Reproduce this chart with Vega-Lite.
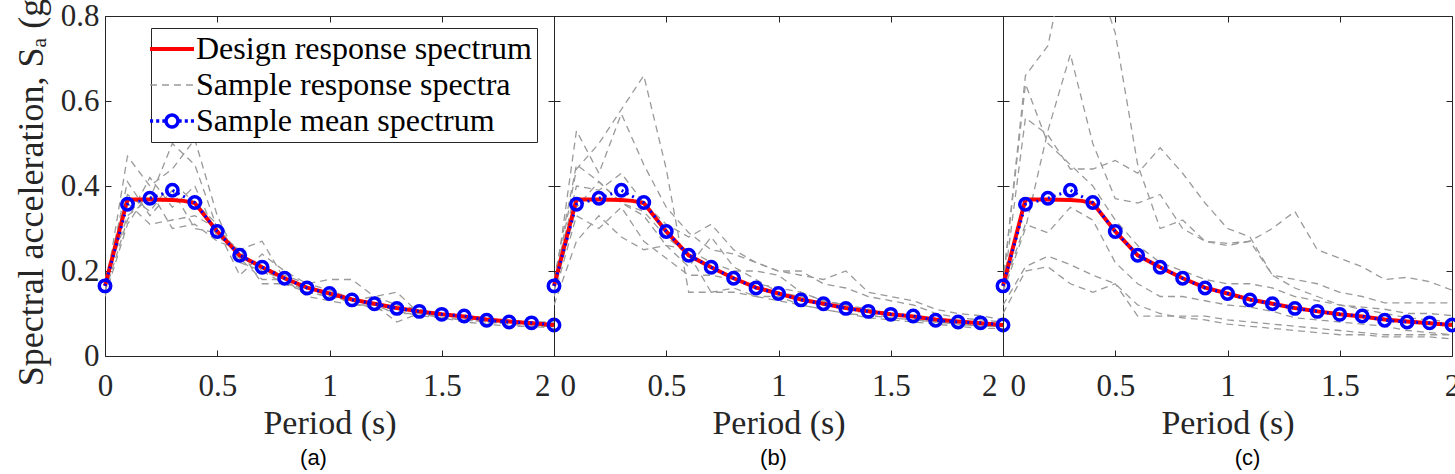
{
"$schema": "https://vega.github.io/schema/vega-lite/v6.json",
"background": "white",
"padding": {"left": 12, "top": -15, "right": 0, "bottom": 0},
"bounds": "flush",
"spacing": 0,
"config": {
  "view": {"stroke": "#262626", "strokeWidth": 1},
  "font": "Liberation Serif",
  "axis": {"domain": false, "grid": false, "ticks": true, "tickSize": -6, "tickColor": "#262626", "tickWidth": 1,
    "labelFont": "Liberation Serif", "labelFontSize": 31, "labelColor": "#262626",
    "titleFont": "Liberation Serif", "titleFontSize": 34, "titleFontWeight": "normal", "titleColor": "#262626"}
},
"datasets": {
  "design": [
    {"T":0,"v":0.165},{"T":0.1,"v":0.368},{"T":0.2,"v":0.368},{"T":0.3,"v":0.367},{"T":0.35,"v":0.365},{"T":0.4,"v":0.36},
    {"T":0.5,"v":0.293},{"T":0.6,"v":0.237},{"T":0.7,"v":0.209},{"T":0.8,"v":0.183},{"T":0.9,"v":0.161},{"T":1,"v":0.147},
    {"T":1.1,"v":0.133},{"T":1.2,"v":0.123},{"T":1.3,"v":0.113},{"T":1.4,"v":0.105},{"T":1.5,"v":0.098},{"T":1.6,"v":0.093},
    {"T":1.7,"v":0.086},{"T":1.8,"v":0.081},{"T":1.9,"v":0.077},{"T":2,"v":0.073}
  ],
  "mean": [
    {"T":0,"v":0.165},{"T":0.1,"v":0.357},{"T":0.2,"v":0.371},{"T":0.3,"v":0.39},{"T":0.4,"v":0.361},{"T":0.5,"v":0.293},
    {"T":0.6,"v":0.237},{"T":0.7,"v":0.209},{"T":0.8,"v":0.183},{"T":0.9,"v":0.16},{"T":1,"v":0.147},{"T":1.1,"v":0.132},
    {"T":1.2,"v":0.123},{"T":1.3,"v":0.112},{"T":1.4,"v":0.105},{"T":1.5,"v":0.098},{"T":1.6,"v":0.094},{"T":1.7,"v":0.084},
    {"T":1.8,"v":0.08},{"T":1.9,"v":0.078},{"T":2,"v":0.073}
  ],
  "samples": [
    {"p":"a","k":1,"T":0,"v":0.15},{"p":"a","k":1,"T":0.1,"v":0.47},{"p":"a","k":1,"T":0.2,"v":0.40},{"p":"a","k":1,"T":0.3,"v":0.44},{"p":"a","k":1,"T":0.4,"v":0.51},{"p":"a","k":1,"T":0.5,"v":0.33},{"p":"a","k":1,"T":0.6,"v":0.22},{"p":"a","k":1,"T":0.7,"v":0.20},{"p":"a","k":1,"T":0.8,"v":0.17},{"p":"a","k":1,"T":0.9,"v":0.15},{"p":"a","k":1,"T":1,"v":0.14},{"p":"a","k":1,"T":1.1,"v":0.13},{"p":"a","k":1,"T":1.2,"v":0.12},{"p":"a","k":1,"T":1.3,"v":0.11},{"p":"a","k":1,"T":1.4,"v":0.10},{"p":"a","k":1,"T":1.5,"v":0.095},{"p":"a","k":1,"T":1.6,"v":0.09},{"p":"a","k":1,"T":1.7,"v":0.085},{"p":"a","k":1,"T":1.8,"v":0.08},{"p":"a","k":1,"T":1.9,"v":0.075},{"p":"a","k":1,"T":2,"v":0.07},
    {"p":"a","k":2,"T":0,"v":0.17},{"p":"a","k":2,"T":0.1,"v":0.33},{"p":"a","k":2,"T":0.2,"v":0.37},{"p":"a","k":2,"T":0.3,"v":0.50},{"p":"a","k":2,"T":0.4,"v":0.45},{"p":"a","k":2,"T":0.5,"v":0.30},{"p":"a","k":2,"T":0.6,"v":0.19},{"p":"a","k":2,"T":0.7,"v":0.24},{"p":"a","k":2,"T":0.8,"v":0.20},{"p":"a","k":2,"T":0.9,"v":0.17},{"p":"a","k":2,"T":1,"v":0.18},{"p":"a","k":2,"T":1.1,"v":0.18},{"p":"a","k":2,"T":1.2,"v":0.14},{"p":"a","k":2,"T":1.3,"v":0.12},{"p":"a","k":2,"T":1.4,"v":0.11},{"p":"a","k":2,"T":1.5,"v":0.10},{"p":"a","k":2,"T":1.6,"v":0.09},{"p":"a","k":2,"T":1.7,"v":0.08},{"p":"a","k":2,"T":1.8,"v":0.08},{"p":"a","k":2,"T":1.9,"v":0.08},{"p":"a","k":2,"T":2,"v":0.075},
    {"p":"a","k":3,"T":0,"v":0.16},{"p":"a","k":3,"T":0.1,"v":0.41},{"p":"a","k":3,"T":0.2,"v":0.33},{"p":"a","k":3,"T":0.3,"v":0.39},{"p":"a","k":3,"T":0.4,"v":0.30},{"p":"a","k":3,"T":0.5,"v":0.29},{"p":"a","k":3,"T":0.6,"v":0.25},{"p":"a","k":3,"T":0.7,"v":0.27},{"p":"a","k":3,"T":0.8,"v":0.18},{"p":"a","k":3,"T":0.9,"v":0.15},{"p":"a","k":3,"T":1,"v":0.14},{"p":"a","k":3,"T":1.1,"v":0.13},{"p":"a","k":3,"T":1.2,"v":0.14},{"p":"a","k":3,"T":1.3,"v":0.15},{"p":"a","k":3,"T":1.4,"v":0.10},{"p":"a","k":3,"T":1.5,"v":0.10},{"p":"a","k":3,"T":1.6,"v":0.095},{"p":"a","k":3,"T":1.7,"v":0.09},{"p":"a","k":3,"T":1.8,"v":0.08},{"p":"a","k":3,"T":1.9,"v":0.08},{"p":"a","k":3,"T":2,"v":0.075},
    {"p":"a","k":4,"T":0,"v":0.14},{"p":"a","k":4,"T":0.1,"v":0.31},{"p":"a","k":4,"T":0.2,"v":0.39},{"p":"a","k":4,"T":0.3,"v":0.30},{"p":"a","k":4,"T":0.4,"v":0.31},{"p":"a","k":4,"T":0.5,"v":0.27},{"p":"a","k":4,"T":0.6,"v":0.25},{"p":"a","k":4,"T":0.7,"v":0.17},{"p":"a","k":4,"T":0.8,"v":0.17},{"p":"a","k":4,"T":0.9,"v":0.16},{"p":"a","k":4,"T":1,"v":0.15},{"p":"a","k":4,"T":1.1,"v":0.12},{"p":"a","k":4,"T":1.2,"v":0.12},{"p":"a","k":4,"T":1.3,"v":0.08},{"p":"a","k":4,"T":1.4,"v":0.10},{"p":"a","k":4,"T":1.5,"v":0.09},{"p":"a","k":4,"T":1.6,"v":0.085},{"p":"a","k":4,"T":1.7,"v":0.08},{"p":"a","k":4,"T":1.8,"v":0.075},{"p":"a","k":4,"T":1.9,"v":0.07},{"p":"a","k":4,"T":2,"v":0.065},
    {"p":"a","k":5,"T":0,"v":0.18},{"p":"a","k":5,"T":0.1,"v":0.38},{"p":"a","k":5,"T":0.2,"v":0.34},{"p":"a","k":5,"T":0.3,"v":0.41},{"p":"a","k":5,"T":0.4,"v":0.36},{"p":"a","k":5,"T":0.5,"v":0.31},{"p":"a","k":5,"T":0.6,"v":0.23},{"p":"a","k":5,"T":0.7,"v":0.21},{"p":"a","k":5,"T":0.8,"v":0.19},{"p":"a","k":5,"T":0.9,"v":0.17},{"p":"a","k":5,"T":1,"v":0.155},{"p":"a","k":5,"T":1.1,"v":0.135},{"p":"a","k":5,"T":1.2,"v":0.12},{"p":"a","k":5,"T":1.3,"v":0.11},{"p":"a","k":5,"T":1.4,"v":0.105},{"p":"a","k":5,"T":1.5,"v":0.10},{"p":"a","k":5,"T":1.6,"v":0.09},{"p":"a","k":5,"T":1.7,"v":0.085},{"p":"a","k":5,"T":1.8,"v":0.085},{"p":"a","k":5,"T":1.9,"v":0.08},{"p":"a","k":5,"T":2,"v":0.08},
    {"p":"a","k":6,"T":0,"v":0.15},{"p":"a","k":6,"T":0.1,"v":0.32},{"p":"a","k":6,"T":0.2,"v":0.42},{"p":"a","k":6,"T":0.3,"v":0.35},{"p":"a","k":6,"T":0.4,"v":0.40},{"p":"a","k":6,"T":0.5,"v":0.28},{"p":"a","k":6,"T":0.6,"v":0.25},{"p":"a","k":6,"T":0.7,"v":0.20},{"p":"a","k":6,"T":0.8,"v":0.18},{"p":"a","k":6,"T":0.9,"v":0.14},{"p":"a","k":6,"T":1,"v":0.13},{"p":"a","k":6,"T":1.1,"v":0.12},{"p":"a","k":6,"T":1.2,"v":0.12},{"p":"a","k":6,"T":1.3,"v":0.10},{"p":"a","k":6,"T":1.4,"v":0.10},{"p":"a","k":6,"T":1.5,"v":0.09},{"p":"a","k":6,"T":1.6,"v":0.085},{"p":"a","k":6,"T":1.7,"v":0.08},{"p":"a","k":6,"T":1.8,"v":0.075},{"p":"a","k":6,"T":1.9,"v":0.075},{"p":"a","k":6,"T":2,"v":0.07},
    {"p":"a","k":7,"T":0,"v":0.17},{"p":"a","k":7,"T":0.1,"v":0.36},{"p":"a","k":7,"T":0.2,"v":0.31},{"p":"a","k":7,"T":0.3,"v":0.32},{"p":"a","k":7,"T":0.4,"v":0.33},{"p":"a","k":7,"T":0.5,"v":0.30},{"p":"a","k":7,"T":0.6,"v":0.23},{"p":"a","k":7,"T":0.7,"v":0.18},{"p":"a","k":7,"T":0.8,"v":0.18},{"p":"a","k":7,"T":0.9,"v":0.16},{"p":"a","k":7,"T":1,"v":0.14},{"p":"a","k":7,"T":1.1,"v":0.13},{"p":"a","k":7,"T":1.2,"v":0.11},{"p":"a","k":7,"T":1.3,"v":0.105},{"p":"a","k":7,"T":1.4,"v":0.095},{"p":"a","k":7,"T":1.5,"v":0.09},{"p":"a","k":7,"T":1.6,"v":0.08},{"p":"a","k":7,"T":1.7,"v":0.075},{"p":"a","k":7,"T":1.8,"v":0.07},{"p":"a","k":7,"T":1.9,"v":0.07},{"p":"a","k":7,"T":2,"v":0.07},
    {"p":"b","k":1,"T":0,"v":0.16},{"p":"b","k":1,"T":0.1,"v":0.44},{"p":"b","k":1,"T":0.2,"v":0.50},{"p":"b","k":1,"T":0.3,"v":0.58},{"p":"b","k":1,"T":0.4,"v":0.66},{"p":"b","k":1,"T":0.5,"v":0.44},{"p":"b","k":1,"T":0.6,"v":0.15},{"p":"b","k":1,"T":0.7,"v":0.15},{"p":"b","k":1,"T":0.8,"v":0.16},{"p":"b","k":1,"T":0.9,"v":0.14},{"p":"b","k":1,"T":1,"v":0.13},{"p":"b","k":1,"T":1.1,"v":0.12},{"p":"b","k":1,"T":1.2,"v":0.11},{"p":"b","k":1,"T":1.3,"v":0.10},{"p":"b","k":1,"T":1.4,"v":0.095},{"p":"b","k":1,"T":1.5,"v":0.09},{"p":"b","k":1,"T":1.6,"v":0.085},{"p":"b","k":1,"T":1.7,"v":0.08},{"p":"b","k":1,"T":1.8,"v":0.075},{"p":"b","k":1,"T":1.9,"v":0.07},{"p":"b","k":1,"T":2,"v":0.07},
    {"p":"b","k":2,"T":0,"v":0.15},{"p":"b","k":2,"T":0.1,"v":0.53},{"p":"b","k":2,"T":0.2,"v":0.43},{"p":"b","k":2,"T":0.3,"v":0.57},{"p":"b","k":2,"T":0.4,"v":0.45},{"p":"b","k":2,"T":0.5,"v":0.35},{"p":"b","k":2,"T":0.6,"v":0.29},{"p":"b","k":2,"T":0.7,"v":0.25},{"p":"b","k":2,"T":0.8,"v":0.24},{"p":"b","k":2,"T":0.9,"v":0.22},{"p":"b","k":2,"T":1,"v":0.20},{"p":"b","k":2,"T":1.1,"v":0.20},{"p":"b","k":2,"T":1.2,"v":0.17},{"p":"b","k":2,"T":1.3,"v":0.16},{"p":"b","k":2,"T":1.4,"v":0.14},{"p":"b","k":2,"T":1.5,"v":0.13},{"p":"b","k":2,"T":1.6,"v":0.12},{"p":"b","k":2,"T":1.7,"v":0.10},{"p":"b","k":2,"T":1.8,"v":0.09},{"p":"b","k":2,"T":1.9,"v":0.085},{"p":"b","k":2,"T":2,"v":0.08},
    {"p":"b","k":3,"T":0,"v":0.17},{"p":"b","k":3,"T":0.1,"v":0.40},{"p":"b","k":3,"T":0.2,"v":0.39},{"p":"b","k":3,"T":0.3,"v":0.43},{"p":"b","k":3,"T":0.4,"v":0.36},{"p":"b","k":3,"T":0.5,"v":0.31},{"p":"b","k":3,"T":0.6,"v":0.28},{"p":"b","k":3,"T":0.7,"v":0.31},{"p":"b","k":3,"T":0.8,"v":0.25},{"p":"b","k":3,"T":0.9,"v":0.22},{"p":"b","k":3,"T":1,"v":0.20},{"p":"b","k":3,"T":1.1,"v":0.19},{"p":"b","k":3,"T":1.2,"v":0.18},{"p":"b","k":3,"T":1.3,"v":0.20},{"p":"b","k":3,"T":1.4,"v":0.15},{"p":"b","k":3,"T":1.5,"v":0.14},{"p":"b","k":3,"T":1.6,"v":0.13},{"p":"b","k":3,"T":1.7,"v":0.11},{"p":"b","k":3,"T":1.8,"v":0.10},{"p":"b","k":3,"T":1.9,"v":0.095},{"p":"b","k":3,"T":2,"v":0.085},
    {"p":"b","k":4,"T":0,"v":0.14},{"p":"b","k":4,"T":0.1,"v":0.33},{"p":"b","k":4,"T":0.2,"v":0.30},{"p":"b","k":4,"T":0.3,"v":0.35},{"p":"b","k":4,"T":0.4,"v":0.27},{"p":"b","k":4,"T":0.5,"v":0.23},{"p":"b","k":4,"T":0.6,"v":0.19},{"p":"b","k":4,"T":0.7,"v":0.19},{"p":"b","k":4,"T":0.8,"v":0.18},{"p":"b","k":4,"T":0.9,"v":0.17},{"p":"b","k":4,"T":1,"v":0.16},{"p":"b","k":4,"T":1.1,"v":0.15},{"p":"b","k":4,"T":1.2,"v":0.13},{"p":"b","k":4,"T":1.3,"v":0.12},{"p":"b","k":4,"T":1.4,"v":0.11},{"p":"b","k":4,"T":1.5,"v":0.10},{"p":"b","k":4,"T":1.6,"v":0.09},{"p":"b","k":4,"T":1.7,"v":0.085},{"p":"b","k":4,"T":1.8,"v":0.08},{"p":"b","k":4,"T":1.9,"v":0.08},{"p":"b","k":4,"T":2,"v":0.075},
    {"p":"b","k":5,"T":0,"v":0.12},{"p":"b","k":5,"T":0.1,"v":0.27},{"p":"b","k":5,"T":0.2,"v":0.33},{"p":"b","k":5,"T":0.3,"v":0.28},{"p":"b","k":5,"T":0.4,"v":0.25},{"p":"b","k":5,"T":0.5,"v":0.26},{"p":"b","k":5,"T":0.6,"v":0.21},{"p":"b","k":5,"T":0.7,"v":0.28},{"p":"b","k":5,"T":0.8,"v":0.21},{"p":"b","k":5,"T":0.9,"v":0.18},{"p":"b","k":5,"T":1,"v":0.15},{"p":"b","k":5,"T":1.1,"v":0.14},{"p":"b","k":5,"T":1.2,"v":0.12},{"p":"b","k":5,"T":1.3,"v":0.11},{"p":"b","k":5,"T":1.4,"v":0.10},{"p":"b","k":5,"T":1.5,"v":0.09},{"p":"b","k":5,"T":1.6,"v":0.085},{"p":"b","k":5,"T":1.7,"v":0.08},{"p":"b","k":5,"T":1.8,"v":0.075},{"p":"b","k":5,"T":1.9,"v":0.07},{"p":"b","k":5,"T":2,"v":0.07},
    {"p":"b","k":6,"T":0,"v":0.15},{"p":"b","k":6,"T":0.1,"v":0.35},{"p":"b","k":6,"T":0.2,"v":0.41},{"p":"b","k":6,"T":0.3,"v":0.36},{"p":"b","k":6,"T":0.4,"v":0.34},{"p":"b","k":6,"T":0.5,"v":0.28},{"p":"b","k":6,"T":0.6,"v":0.24},{"p":"b","k":6,"T":0.7,"v":0.15},{"p":"b","k":6,"T":0.8,"v":0.15},{"p":"b","k":6,"T":0.9,"v":0.14},{"p":"b","k":6,"T":1,"v":0.14},{"p":"b","k":6,"T":1.1,"v":0.12},{"p":"b","k":6,"T":1.2,"v":0.11},{"p":"b","k":6,"T":1.3,"v":0.10},{"p":"b","k":6,"T":1.4,"v":0.09},{"p":"b","k":6,"T":1.5,"v":0.085},{"p":"b","k":6,"T":1.6,"v":0.08},{"p":"b","k":6,"T":1.7,"v":0.075},{"p":"b","k":6,"T":1.8,"v":0.07},{"p":"b","k":6,"T":1.9,"v":0.065},{"p":"b","k":6,"T":2,"v":0.065},
    {"p":"b","k":7,"T":0,"v":0.18},{"p":"b","k":7,"T":0.1,"v":0.45},{"p":"b","k":7,"T":0.2,"v":0.41},{"p":"b","k":7,"T":0.3,"v":0.36},{"p":"b","k":7,"T":0.4,"v":0.33},{"p":"b","k":7,"T":0.5,"v":0.26},{"p":"b","k":7,"T":0.6,"v":0.25},{"p":"b","k":7,"T":0.7,"v":0.22},{"p":"b","k":7,"T":0.8,"v":0.20},{"p":"b","k":7,"T":0.9,"v":0.20},{"p":"b","k":7,"T":1,"v":0.19},{"p":"b","k":7,"T":1.1,"v":0.15},{"p":"b","k":7,"T":1.2,"v":0.13},{"p":"b","k":7,"T":1.3,"v":0.12},{"p":"b","k":7,"T":1.4,"v":0.11},{"p":"b","k":7,"T":1.5,"v":0.10},{"p":"b","k":7,"T":1.6,"v":0.09},{"p":"b","k":7,"T":1.7,"v":0.08},{"p":"b","k":7,"T":1.8,"v":0.08},{"p":"b","k":7,"T":1.9,"v":0.07},{"p":"b","k":7,"T":2,"v":0.075},
    {"p":"c","k":1,"T":0,"v":0.17},{"p":"c","k":1,"T":0.1,"v":0.66},{"p":"c","k":1,"T":0.2,"v":0.73},{"p":"c","k":1,"T":0.3,"v":0.98},{"p":"c","k":1,"T":0.4,"v":0.92},{"p":"c","k":1,"T":0.5,"v":0.76},{"p":"c","k":1,"T":0.6,"v":0.45},{"p":"c","k":1,"T":0.7,"v":0.30},{"p":"c","k":1,"T":0.8,"v":0.32},{"p":"c","k":1,"T":0.9,"v":0.27},{"p":"c","k":1,"T":1,"v":0.26},{"p":"c","k":1,"T":1.1,"v":0.27},{"p":"c","k":1,"T":1.2,"v":0.19},{"p":"c","k":1,"T":1.3,"v":0.16},{"p":"c","k":1,"T":1.4,"v":0.14},{"p":"c","k":1,"T":1.5,"v":0.12},{"p":"c","k":1,"T":1.6,"v":0.11},{"p":"c","k":1,"T":1.7,"v":0.10},{"p":"c","k":1,"T":1.8,"v":0.09},{"p":"c","k":1,"T":1.9,"v":0.085},{"p":"c","k":1,"T":2,"v":0.08},
    {"p":"c","k":2,"T":0,"v":0.15},{"p":"c","k":2,"T":0.1,"v":0.30},{"p":"c","k":2,"T":0.2,"v":0.53},{"p":"c","k":2,"T":0.3,"v":0.71},{"p":"c","k":2,"T":0.4,"v":0.50},{"p":"c","k":2,"T":0.5,"v":0.37},{"p":"c","k":2,"T":0.6,"v":0.36},{"p":"c","k":2,"T":0.7,"v":0.38},{"p":"c","k":2,"T":0.8,"v":0.30},{"p":"c","k":2,"T":0.9,"v":0.27},{"p":"c","k":2,"T":1,"v":0.265},{"p":"c","k":2,"T":1.1,"v":0.27},{"p":"c","k":2,"T":1.2,"v":0.30},{"p":"c","k":2,"T":1.3,"v":0.34},{"p":"c","k":2,"T":1.4,"v":0.25},{"p":"c","k":2,"T":1.5,"v":0.23},{"p":"c","k":2,"T":1.6,"v":0.21},{"p":"c","k":2,"T":1.7,"v":0.18},{"p":"c","k":2,"T":1.8,"v":0.185},{"p":"c","k":2,"T":1.9,"v":0.175},{"p":"c","k":2,"T":2,"v":0.155},
    {"p":"c","k":3,"T":0,"v":0.15},{"p":"c","k":3,"T":0.1,"v":0.56},{"p":"c","k":3,"T":0.2,"v":0.52},{"p":"c","k":3,"T":0.3,"v":0.44},{"p":"c","k":3,"T":0.4,"v":0.44},{"p":"c","k":3,"T":0.5,"v":0.46},{"p":"c","k":3,"T":0.6,"v":0.43},{"p":"c","k":3,"T":0.7,"v":0.49},{"p":"c","k":3,"T":0.8,"v":0.43},{"p":"c","k":3,"T":0.9,"v":0.36},{"p":"c","k":3,"T":1,"v":0.30},{"p":"c","k":3,"T":1.1,"v":0.28},{"p":"c","k":3,"T":1.2,"v":0.19},{"p":"c","k":3,"T":1.3,"v":0.18},{"p":"c","k":3,"T":1.4,"v":0.17},{"p":"c","k":3,"T":1.5,"v":0.15},{"p":"c","k":3,"T":1.6,"v":0.14},{"p":"c","k":3,"T":1.7,"v":0.125},{"p":"c","k":3,"T":1.8,"v":0.125},{"p":"c","k":3,"T":1.9,"v":0.125},{"p":"c","k":3,"T":2,"v":0.125},
    {"p":"c","k":4,"T":0,"v":0.16},{"p":"c","k":4,"T":0.1,"v":0.31},{"p":"c","k":4,"T":0.2,"v":0.29},{"p":"c","k":4,"T":0.3,"v":0.35},{"p":"c","k":4,"T":0.4,"v":0.32},{"p":"c","k":4,"T":0.5,"v":0.22},{"p":"c","k":4,"T":0.6,"v":0.17},{"p":"c","k":4,"T":0.7,"v":0.14},{"p":"c","k":4,"T":0.8,"v":0.14},{"p":"c","k":4,"T":0.9,"v":0.13},{"p":"c","k":4,"T":1,"v":0.12},{"p":"c","k":4,"T":1.1,"v":0.115},{"p":"c","k":4,"T":1.2,"v":0.105},{"p":"c","k":4,"T":1.3,"v":0.09},{"p":"c","k":4,"T":1.4,"v":0.085},{"p":"c","k":4,"T":1.5,"v":0.08},{"p":"c","k":4,"T":1.6,"v":0.075},{"p":"c","k":4,"T":1.7,"v":0.07},{"p":"c","k":4,"T":1.8,"v":0.06},{"p":"c","k":4,"T":1.9,"v":0.055},{"p":"c","k":4,"T":2,"v":0.05},
    {"p":"c","k":5,"T":0,"v":0.12},{"p":"c","k":5,"T":0.1,"v":0.21},{"p":"c","k":5,"T":0.2,"v":0.235},{"p":"c","k":5,"T":0.3,"v":0.215},{"p":"c","k":5,"T":0.4,"v":0.19},{"p":"c","k":5,"T":0.5,"v":0.17},{"p":"c","k":5,"T":0.6,"v":0.12},{"p":"c","k":5,"T":0.7,"v":0.10},{"p":"c","k":5,"T":0.8,"v":0.09},{"p":"c","k":5,"T":0.9,"v":0.085},{"p":"c","k":5,"T":1,"v":0.075},{"p":"c","k":5,"T":1.1,"v":0.07},{"p":"c","k":5,"T":1.2,"v":0.065},{"p":"c","k":5,"T":1.3,"v":0.06},{"p":"c","k":5,"T":1.4,"v":0.055},{"p":"c","k":5,"T":1.5,"v":0.05},{"p":"c","k":5,"T":1.6,"v":0.05},{"p":"c","k":5,"T":1.7,"v":0.045},{"p":"c","k":5,"T":1.8,"v":0.045},{"p":"c","k":5,"T":1.9,"v":0.045},{"p":"c","k":5,"T":2,"v":0.04},
    {"p":"c","k":6,"T":0,"v":0.10},{"p":"c","k":6,"T":0.1,"v":0.20},{"p":"c","k":6,"T":0.2,"v":0.21},{"p":"c","k":6,"T":0.3,"v":0.17},{"p":"c","k":6,"T":0.4,"v":0.15},{"p":"c","k":6,"T":0.5,"v":0.17},{"p":"c","k":6,"T":0.6,"v":0.094},{"p":"c","k":6,"T":0.7,"v":0.094},{"p":"c","k":6,"T":0.8,"v":0.094},{"p":"c","k":6,"T":0.9,"v":0.094},{"p":"c","k":6,"T":1,"v":0.085},{"p":"c","k":6,"T":1.1,"v":0.08},{"p":"c","k":6,"T":1.2,"v":0.075},{"p":"c","k":6,"T":1.3,"v":0.07},{"p":"c","k":6,"T":1.4,"v":0.065},{"p":"c","k":6,"T":1.5,"v":0.06},{"p":"c","k":6,"T":1.6,"v":0.055},{"p":"c","k":6,"T":1.7,"v":0.05},{"p":"c","k":6,"T":1.8,"v":0.05},{"p":"c","k":6,"T":1.9,"v":0.05},{"p":"c","k":6,"T":2,"v":0.05},
    {"p":"c","k":7,"T":0,"v":0.17},{"p":"c","k":7,"T":0.1,"v":0.64},{"p":"c","k":7,"T":0.2,"v":0.50},{"p":"c","k":7,"T":0.3,"v":0.45},{"p":"c","k":7,"T":0.4,"v":0.40},{"p":"c","k":7,"T":0.5,"v":0.32},{"p":"c","k":7,"T":0.6,"v":0.26},{"p":"c","k":7,"T":0.7,"v":0.22},{"p":"c","k":7,"T":0.8,"v":0.20},{"p":"c","k":7,"T":0.9,"v":0.18},{"p":"c","k":7,"T":1,"v":0.17},{"p":"c","k":7,"T":1.1,"v":0.17},{"p":"c","k":7,"T":1.2,"v":0.16},{"p":"c","k":7,"T":1.3,"v":0.14},{"p":"c","k":7,"T":1.4,"v":0.13},{"p":"c","k":7,"T":1.5,"v":0.12},{"p":"c","k":7,"T":1.6,"v":0.115},{"p":"c","k":7,"T":1.7,"v":0.11},{"p":"c","k":7,"T":1.8,"v":0.10},{"p":"c","k":7,"T":1.9,"v":0.10},{"p":"c","k":7,"T":2,"v":0.095}
  ]
},
"hconcat": [
  {
    "width": 449, "height": 340,
    "title": {"text": "(a)", "orient": "bottom", "anchor": "middle", "frame": "group", "dx": -16, "offset": 8, "font": "Liberation Sans", "fontSize": 22, "fontWeight": "normal", "color": "#000000"},
    "resolve": {"axis": {"x": "independent", "y": "independent"}},
    "layer": [
      {"data": {"name": "samples"}, "transform": [{"filter": "datum.p === 'a'"}],
       "mark": {"type": "line", "strokeDash": [7, 5], "strokeWidth": 1.3, "clip": true},
       "encoding": {
         "x": {"field": "T", "type": "quantitative", "scale": {"domain": [0, 2]},
               "axis": {"orient": "bottom", "values": [0, 0.5, 1, 1.5, 2], "format": "~g", "labelFlush": false, "labelPadding": 21, "title": "Period (s)", "titlePadding": 5,
                        "labelAlign": {"condition": {"test": "datum.value == 2", "value": "right"}, "value": "center"},
                        "labelOffset": {"condition": {"test": "datum.value == 2", "value": -4}, "value": 0}}},
         "y": {"field": "v", "type": "quantitative", "scale": {"domain": [0, 0.8]},
               "axis": {"orient": "left", "values": [0, 0.2, 0.4, 0.6, 0.8], "format": "~g", "labelFlush": false, "labelPadding": 12, "title": "Spectral acceleration, Sₐ (g)", "titleFontSize": 36, "titlePadding": 10}},
         "detail": {"field": "k", "type": "nominal"},
         "color": {"datum": "Sample response spectra", "type": "nominal",
                   "scale": {"domain": ["Design response spectrum", "Sample response spectra", "Sample mean spectrum"], "range": ["#ff0000", "#9a9a9a", "#0000ff"]},
                   "legend": {"title": null, "orient": "none", "legendX": 46, "legendY": 12, "direction": "vertical",
                              "symbolType": "stroke", "symbolSize": 1936, "symbolStrokeWidth": 3,
                              "labelFont": "Liberation Serif", "labelFontSize": 32, "labelColor": "#000000", "labelOffset": 8, "labelLimit": 600,
                              "rowPadding": 4, "padding": 5, "strokeColor": "#262626", "fillColor": "#ffffff",
                              "encode": {"symbols": {"update": {
                                 "shape": {"signal": "datum.label === 'Sample mean spectrum' ? 'M-1,0H-0.86M-0.72,0H-0.58M-0.44,0H-0.3M0.3,0H0.44M0.58,0H0.72M0.86,0H1M0.27,0A0.27,0.27 0 1,1 -0.27,0A0.27,0.27 0 1,1 0.27,0' : 'stroke'"},
                                 "strokeDash": {"signal": "datum.label === 'Sample response spectra' ? [7,5] : [1,0]"},
                                 "strokeWidth": {"signal": "datum.label === 'Sample response spectra' ? 1.3 : datum.label === 'Design response spectrum' ? 4 : 3.5"},
                                 "fill": {"value": "transparent"}}}}}}
       }},
      {"data": {"name": "design"},
       "mark": {"type": "line", "strokeWidth": 4},
       "encoding": {
         "x": {"field": "T", "type": "quantitative", "scale": {"domain": [0, 2]},
               "axis": {"orient": "top", "values": [0, 0.5, 1, 1.5, 2], "labels": false, "title": null}},
         "y": {"field": "v", "type": "quantitative", "scale": {"domain": [0, 0.8]},
               "axis": {"orient": "right", "values": [0, 0.2, 0.4, 0.6, 0.8], "labels": false, "title": null}},
         "color": {"datum": "Design response spectrum", "type": "nominal",
                   "scale": {"domain": ["Design response spectrum", "Sample response spectra", "Sample mean spectrum"], "range": ["#ff0000", "#9a9a9a", "#0000ff"]}}
       }},
      {"data": {"name": "mean"},
       "mark": {"type": "line", "strokeWidth": 3, "strokeDash": [2, 4]},
       "encoding": {
         "x": {"field": "T", "type": "quantitative", "scale": {"domain": [0, 2]}, "axis": null},
         "y": {"field": "v", "type": "quantitative", "scale": {"domain": [0, 0.8]}, "axis": null},
         "color": {"datum": "Sample mean spectrum", "type": "nominal",
                   "scale": {"domain": ["Design response spectrum", "Sample response spectra", "Sample mean spectrum"], "range": ["#ff0000", "#9a9a9a", "#0000ff"]}}
       }},
      {"data": {"name": "mean"},
       "mark": {"type": "point", "shape": "circle", "filled": false, "strokeWidth": 3.5, "size": 130, "color": "#0000ff", "opacity": 1},
       "encoding": {
         "x": {"field": "T", "type": "quantitative", "scale": {"domain": [0, 2]}, "axis": null},
         "y": {"field": "v", "type": "quantitative", "scale": {"domain": [0, 0.8]}, "axis": null}
       }}
    ]
  },
  {
    "width": 449, "height": 340,
    "title": {"text": "(b)", "orient": "bottom", "anchor": "middle", "frame": "group", "dx": -5, "offset": 8, "font": "Liberation Sans", "fontSize": 22, "fontWeight": "normal", "color": "#000000"},
    "resolve": {"axis": {"x": "independent", "y": "independent"}},
    "layer": [
      {"data": {"name": "samples"}, "transform": [{"filter": "datum.p === 'b'"}],
       "mark": {"type": "line", "strokeDash": [7, 5], "strokeWidth": 1.3, "color": "#9a9a9a", "clip": true},
       "encoding": {
         "x": {"field": "T", "type": "quantitative", "scale": {"domain": [0, 2]},
               "axis": {"orient": "bottom", "values": [0, 0.5, 1, 1.5, 2], "format": "~g", "labelFlush": true, "labelFlushOffset": -6, "labelPadding": 21, "title": "Period (s)", "titlePadding": 5}},
         "y": {"field": "v", "type": "quantitative", "scale": {"domain": [0, 0.8]},
               "axis": {"orient": "left", "values": [0, 0.2, 0.4, 0.6, 0.8], "labels": false, "title": null}},
         "detail": {"field": "k", "type": "nominal"}
       }},
      {"data": {"name": "design"},
       "mark": {"type": "line", "strokeWidth": 4, "color": "#ff0000"},
       "encoding": {
         "x": {"field": "T", "type": "quantitative", "scale": {"domain": [0, 2]},
               "axis": {"orient": "top", "values": [0, 0.5, 1, 1.5, 2], "labels": false, "title": null}},
         "y": {"field": "v", "type": "quantitative", "scale": {"domain": [0, 0.8]},
               "axis": {"orient": "right", "values": [0, 0.2, 0.4, 0.6, 0.8], "labels": false, "title": null}}
       }},
      {"data": {"name": "mean"},
       "mark": {"type": "line", "strokeWidth": 3, "strokeDash": [2, 4], "color": "#0000ff"},
       "encoding": {
         "x": {"field": "T", "type": "quantitative", "scale": {"domain": [0, 2]}, "axis": null},
         "y": {"field": "v", "type": "quantitative", "scale": {"domain": [0, 0.8]}, "axis": null}
       }},
      {"data": {"name": "mean"},
       "mark": {"type": "point", "shape": "circle", "filled": false, "strokeWidth": 3.5, "size": 130, "color": "#0000ff", "opacity": 1},
       "encoding": {
         "x": {"field": "T", "type": "quantitative", "scale": {"domain": [0, 2]}, "axis": null},
         "y": {"field": "v", "type": "quantitative", "scale": {"domain": [0, 0.8]}, "axis": null}
       }}
    ]
  },
  {
    "width": 449, "height": 340,
    "title": {"text": "(c)", "orient": "bottom", "anchor": "middle", "frame": "group", "dx": 20, "offset": 8, "font": "Liberation Sans", "fontSize": 22, "fontWeight": "normal", "color": "#000000"},
    "resolve": {"axis": {"x": "independent", "y": "independent"}},
    "layer": [
      {"data": {"name": "samples"}, "transform": [{"filter": "datum.p === 'c'"}],
       "mark": {"type": "line", "strokeDash": [7, 5], "strokeWidth": 1.3, "color": "#9a9a9a", "clip": true},
       "encoding": {
         "x": {"field": "T", "type": "quantitative", "scale": {"domain": [0, 2]},
               "axis": {"orient": "bottom", "values": [0, 0.5, 1, 1.5, 2], "format": "~g", "labelFlush": false, "labelPadding": 21, "title": "Period (s)", "titlePadding": 5,
                        "labelAlign": {"condition": {"test": "datum.value == 0", "value": "left"}, "value": "center"},
                        "labelOffset": {"condition": {"test": "datum.value == 0", "value": 7}, "value": 0}}},
         "y": {"field": "v", "type": "quantitative", "scale": {"domain": [0, 0.8]},
               "axis": {"orient": "left", "values": [0, 0.2, 0.4, 0.6, 0.8], "labels": false, "title": null}},
         "detail": {"field": "k", "type": "nominal"}
       }},
      {"data": {"name": "design"},
       "mark": {"type": "line", "strokeWidth": 4, "color": "#ff0000"},
       "encoding": {
         "x": {"field": "T", "type": "quantitative", "scale": {"domain": [0, 2]},
               "axis": {"orient": "top", "values": [0, 0.5, 1, 1.5, 2], "labels": false, "title": null}},
         "y": {"field": "v", "type": "quantitative", "scale": {"domain": [0, 0.8]},
               "axis": {"orient": "right", "values": [0, 0.2, 0.4, 0.6, 0.8], "labels": false, "title": null}}
       }},
      {"data": {"name": "mean"},
       "mark": {"type": "line", "strokeWidth": 3, "strokeDash": [2, 4], "color": "#0000ff"},
       "encoding": {
         "x": {"field": "T", "type": "quantitative", "scale": {"domain": [0, 2]}, "axis": null},
         "y": {"field": "v", "type": "quantitative", "scale": {"domain": [0, 0.8]}, "axis": null}
       }},
      {"data": {"name": "mean"},
       "mark": {"type": "point", "shape": "circle", "filled": false, "strokeWidth": 3.5, "size": 130, "color": "#0000ff", "opacity": 1},
       "encoding": {
         "x": {"field": "T", "type": "quantitative", "scale": {"domain": [0, 2]}, "axis": null},
         "y": {"field": "v", "type": "quantitative", "scale": {"domain": [0, 0.8]}, "axis": null}
       }}
    ]
  }
]
}
